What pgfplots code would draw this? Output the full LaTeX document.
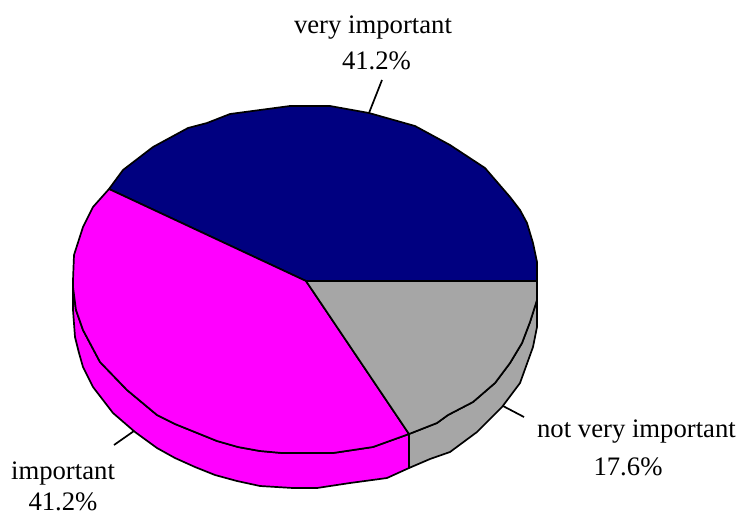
\documentclass[border=0pt]{standalone}
\usepackage{pgfplots}
\pgfplotsset{compat=1.18}
\usepackage{fontspec}
\setmainfont{Liberation Serif}
\definecolor{cnavy}{HTML}{000080}
\definecolor{cmag}{HTML}{FF00FF}
\definecolor{cgray}{HTML}{A6A6A6}
\tikzset{lbl/.style={font=\fontsize{26.7}{30}\selectfont, text=black, inner sep=0pt, anchor=base}}
\begin{document}
\begin{tikzpicture}
\useasboundingbox (0,0) rectangle (738pt,511pt);
\begin{axis}[
  at={(0,0)}, anchor=south west,
  hide axis, scale only axis, width=738pt, height=511pt,
  xmin=0, xmax=738, ymin=0, ymax=511, y dir=reverse, clip=false,
  every axis plot/.append style={no markers, line width=1.7pt, line join=round}
]
% leader lines
\addplot[draw=black] coordinates {(369,113) (382,80)};
\addplot[draw=black] coordinates {(134,431) (114,445)};
\addplot[draw=black] coordinates {(503,406) (524,417)};
% magenta side
\addplot[draw=black,fill=cmag] coordinates {(73,280) (73,310) (75,337) (79,353) (83,367) (93,387) (113,413) (135,432) (157,448) (175,458) (195,467) (215,475) (237,481) (260,486) (293,488) (317,488) (350,483) (387,478) (409,468) (409,434) (373,447) (333,453) (300,453) (282,453) (260,451) (238,447) (217,441) (175,424) (157,415) (127,390) (100,362) (83,330) (76,310) (73,287)} -- cycle;
% gray side
\addplot[draw=black,fill=cgray] coordinates {(409,468) (430,459) (450,452) (477,432) (502,407) (520,383) (533,347) (537,327) (537,281) (537,300) (530,322) (522,343) (510,363) (495,383) (473,402) (448,415) (437,423) (409,434)} -- cycle;
% navy top
\addplot[draw=black,fill=cnavy] coordinates {(306,281) (109,189) (123,170) (153,147) (188,128) (207,123) (230,114) (260,110) (290,106) (300,106) (330,106) (369,113) (415,126) (450,145) (485,168) (510,197) (520,210) (527,223) (533,243) (537,262) (537,281)} -- cycle;
% magenta top
\addplot[draw=black,fill=cmag] coordinates {(306,281) (109,189) (93,207) (83,227) (74,255) (73,280) (73,287) (76,310) (83,330) (100,362) (127,390) (157,415) (175,424) (217,441) (238,447) (260,451) (282,453) (300,453) (333,453) (373,447) (409,434)} -- cycle;
% gray top
\addplot[draw=black,fill=cgray] coordinates {(306,281) (409,434) (437,423) (448,415) (473,402) (495,383) (510,363) (522,343) (530,322) (537,300) (537,281)} -- cycle;
\node[lbl] at (axis cs:373,33.5) {very important};
\node[lbl] at (axis cs:376.5,70) {41.2\%};
\node[lbl] at (axis cs:636.5,437) {not very important};
\node[lbl] at (axis cs:628,475) {17.6\%};
\node[lbl] at (axis cs:63,479) {important};
\node[lbl] at (axis cs:63,510) {41.2\%};
\end{axis}
\end{tikzpicture}
\end{document}
